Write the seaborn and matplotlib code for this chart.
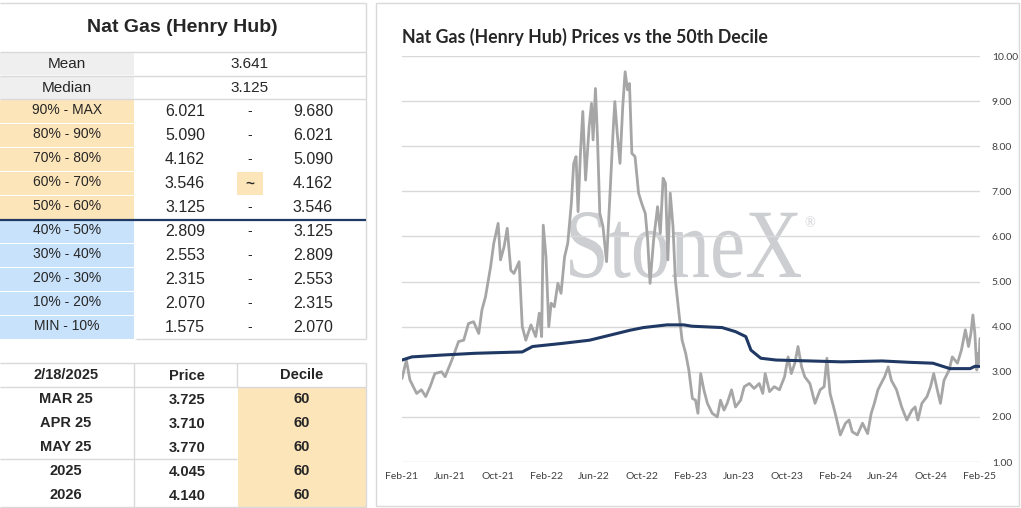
import pandas as pd
import matplotlib.pyplot as plt
import matplotlib.dates as mdates
import matplotlib.patches as mpatches
from matplotlib.textpath import TextPath
from matplotlib.font_manager import FontProperties
from matplotlib.transforms import Affine2D
import seaborn as sns

# ---- table data ----
table_title = "Nat Gas (Henry Hub)"
mean_val = "3.641"
median_val = "3.125"
range_labels = ["90% - MAX", "80% - 90%", "70% - 80%", "60% - 70%", "50% - 60%",
                "40% - 50%", "30% - 40%", "20% - 30%", "10% - 20%", "MIN - 10%"]
range_low = ["6.021", "5.090", "4.162", "3.546", "3.125",
             "2.809", "2.553", "2.315", "2.070", "1.575"]
range_high = ["9.680", "6.021", "5.090", "4.162", "3.546",
              "3.125", "2.809", "2.553", "2.315", "2.070"]
as_of = "2/18/2025"
contracts = ["MAR 25", "APR 25", "MAY 25", "2025", "2026"]
contract_prices = ["3.725", "3.710", "3.770", "4.045", "4.140"]
contract_deciles = ["60", "60", "60", "60", "60"]

# ---- chart data ----
price_dates = [
    "2021-02-18", "2021-03-01", "2021-03-10", "2021-03-27", "2021-04-08", "2021-04-19",
    "2021-04-30", "2021-05-12", "2021-05-29", "2021-06-07", "2021-06-24", "2021-07-11",
    "2021-07-24", "2021-08-05", "2021-08-18", "2021-08-31", "2021-09-08", "2021-09-17",
    "2021-09-30", "2021-10-08", "2021-10-19", "2021-10-25", "2021-11-03", "2021-11-11",
    "2021-11-20", "2021-11-28", "2021-12-11", "2021-12-19", "2021-12-28", "2022-01-10",
    "2022-01-22", "2022-01-31", "2022-02-06", "2022-02-10", "2022-02-17", "2022-02-24",
    "2022-03-02", "2022-03-10", "2022-03-19", "2022-03-27", "2022-04-05", "2022-04-13",
    "2022-04-22", "2022-04-28", "2022-05-04", "2022-05-09", "2022-05-15", "2022-05-21",
    "2022-05-28", "2022-06-06", "2022-06-12", "2022-06-16", "2022-06-22", "2022-06-27",
    "2022-07-03", "2022-07-11", "2022-07-20", "2022-07-28", "2022-08-06", "2022-08-10",
    "2022-08-16", "2022-08-23", "2022-08-30", "2022-09-05", "2022-09-11", "2022-09-16",
    "2022-09-22", "2022-09-30", "2022-10-09", "2022-10-17", "2022-10-26", "2022-11-01",
    "2022-11-07", "2022-11-16", "2022-11-26", "2022-12-03", "2022-12-10", "2022-12-16",
    "2022-12-22", "2022-12-28", "2023-01-04", "2023-01-10", "2023-01-19", "2023-01-27",
    "2023-02-05", "2023-02-13", "2023-02-22", "2023-03-02", "2023-03-08", "2023-03-15",
    "2023-03-23", "2023-04-01", "2023-04-13", "2023-04-26", "2023-05-04", "2023-05-13",
    "2023-05-21", "2023-06-01", "2023-06-11", "2023-06-24", "2023-07-03", "2023-07-16",
    "2023-07-28", "2023-08-10", "2023-08-19", "2023-08-25", "2023-09-05", "2023-09-17",
    "2023-09-30", "2023-10-13", "2023-10-22", "2023-10-30", "2023-11-08", "2023-11-16",
    "2023-11-25", "2023-12-03", "2023-12-16", "2023-12-29", "2024-01-11", "2024-01-21",
    "2024-01-28", "2024-02-05", "2024-02-18", "2024-03-02", "2024-03-15", "2024-03-24",
    "2024-04-01", "2024-04-14", "2024-04-27", "2024-05-10", "2024-05-19", "2024-05-27",
    "2024-06-05", "2024-06-13", "2024-06-22", "2024-07-01", "2024-07-09", "2024-07-22",
    "2024-08-04", "2024-08-17", "2024-08-30", "2024-09-07", "2024-09-14", "2024-09-24",
    "2024-10-07", "2024-10-16", "2024-10-24", "2024-11-02", "2024-11-10", "2024-11-19",
    "2024-12-02", "2024-12-10", "2024-12-23", "2025-01-02", "2025-01-12", "2025-01-20",
    "2025-01-26", "2025-01-31", "2025-02-05", "2025-02-10", "2025-02-13", "2025-02-15",
    "2025-02-18",
]
price_values = [
    2.85, 3.26, 2.82, 2.52, 2.60, 2.45,
    2.67, 2.96, 3.00, 2.89, 3.26, 3.67,
    3.70, 4.07, 4.11, 3.85, 4.37, 4.66,
    5.33, 5.85, 6.29, 5.48, 5.77, 6.18,
    5.25, 5.18, 5.44, 4.00, 3.70, 4.04,
    3.78, 4.30, 3.78, 6.25, 5.55, 4.00,
    4.52, 4.44, 4.96, 4.74, 5.55, 5.85,
    6.73, 7.62, 7.77, 6.55, 7.84, 8.77,
    7.25, 8.43, 8.95, 8.14, 9.28, 8.21,
    6.51, 6.22, 5.44, 6.81, 8.40, 8.99,
    8.29, 7.62, 8.88, 9.65, 9.25, 9.39,
    7.84, 7.77, 6.96, 6.73, 6.51, 5.92,
    4.96, 5.92, 6.66, 6.07, 7.29, 7.18,
    5.48, 6.96, 6.22, 5.03, 4.30, 3.70,
    3.41, 3.04, 2.41, 2.37, 2.08, 2.96,
    2.60, 2.30, 2.08, 2.00, 2.37, 2.15,
    2.30, 2.60, 2.22, 2.37, 2.67, 2.74,
    2.63, 2.74, 2.52, 2.96, 2.56, 2.67,
    2.60, 2.89, 3.33, 2.96, 3.19, 3.56,
    3.11, 2.89, 2.74, 2.30, 2.60, 2.67,
    3.30, 2.52, 2.08, 1.60, 1.86, 1.93,
    1.67, 1.60, 1.86, 1.63, 2.08, 2.30,
    2.60, 2.74, 2.89, 3.11, 2.81, 2.60,
    2.22, 1.93, 2.15, 2.22, 1.93, 2.30,
    2.45, 2.67, 2.96, 2.60, 2.30, 2.81,
    3.04, 3.33, 3.19, 3.48, 3.93, 3.56,
    3.85, 4.26, 3.85, 3.04, 3.41, 3.19,
    3.74,
]
decile_dates = [
    "2021-02-18", "2021-03-15", "2021-05-29", "2021-08-22", "2021-12-19", "2022-01-14",
    "2022-03-31", "2022-06-07", "2022-07-28", "2022-09-17", "2022-10-21", "2022-12-20",
    "2023-01-31", "2023-02-21", "2023-05-08", "2023-06-11", "2023-07-07", "2023-07-20",
    "2023-08-14", "2023-09-22", "2023-12-16", "2024-03-05", "2024-06-15", "2024-08-23",
    "2024-10-22", "2024-12-04", "2025-01-24", "2025-02-05", "2025-02-18",
]
decile_values = [
    3.26, 3.33, 3.37, 3.41, 3.44, 3.56,
    3.63, 3.70, 3.81, 3.92, 3.98, 4.04,
    4.04, 4.01, 3.98, 3.89, 3.78, 3.48,
    3.30, 3.26, 3.24, 3.22, 3.24, 3.21,
    3.19, 3.07, 3.07, 3.12, 3.12,
]
y_ticks = [1, 2, 3, 4, 5, 6, 7, 8, 9, 10]

price_df = pd.DataFrame({"date": pd.to_datetime(price_dates), "price": price_values})
decile_df = pd.DataFrame({"date": pd.to_datetime(decile_dates), "decile": decile_values})

sns.set_style("white")
plt.rcParams["font.family"] = ["Liberation Sans", "DejaVu Sans"]

ORANGE = "#FDE5BA"
BLUE = "#C9E2FB"
GRAY_FILL = "#EFEFEF"
GRID = "#D9D9D9"
NAVY = "#1F3864"
MARK = "#CDCED1"
W, H = 1021, 508

fig = plt.figure(figsize=(W / 100, H / 100), dpi=100)

# background canvas in pixel coordinates
bg = fig.add_axes([0, 0, 1, 1])
bg.set_xlim(0, W)
bg.set_ylim(H, 0)
bg.axis("off")


def rect(x0, y0, x1, y1, color, **kw):
    bg.add_patch(mpatches.Rectangle((x0, y0), x1 - x0, y1 - y0, facecolor=color,
                                    edgecolor="none", **kw))


def hline(y, x0, x1, color=GRID, lw=1.0):
    bg.plot([x0, x1], [y, y], color=color, lw=lw, solid_capstyle="butt")


def vline(x, y0, y1, color=GRID, lw=1.0):
    bg.plot([x, x], [y0, y1], color=color, lw=lw, solid_capstyle="butt")


# ---- upper table ----
TR = 366
hline(3, 0, TR)
vline(TR, 3, 339)
bg.text(182, 28, table_title, ha="center", va="center", fontsize=14, fontweight="bold")
hline(52, 0, TR)
rect(0, 52.5, 134, 75, GRAY_FILL)
rect(0, 76, 134, 98.5, GRAY_FILL)
hline(75.5, 0, TR)
hline(99, 0, TR)
bg.text(67, 64, "Mean", ha="center", va="center", fontsize=11)
bg.text(67, 88, "Median", ha="center", va="center", fontsize=11)
bg.text(250, 64, mean_val, ha="center", va="center", fontsize=11)
bg.text(250, 88, median_val, ha="center", va="center", fontsize=11)

for i, lab in enumerate(range_labels):
    y0 = 99.5 + i * 24
    fill = ORANGE if i < 5 else BLUE
    rect(0, y0, 134, y0 + 23, fill)
    yc = y0 + 12
    bg.text(67, yc - 1, lab, ha="center", va="center", fontsize=10)
    bg.text(185, yc, range_low[i], ha="center", va="center", fontsize=11.5)
    bg.text(313, yc, range_high[i], ha="center", va="center", fontsize=11.5)
    if lab == "60% - 70%":
        rect(237, y0 + 0.5, 263, y0 + 23, ORANGE)
        bg.text(250, yc, "~", ha="center", va="center", fontsize=11, fontweight="bold")
    else:
        bg.text(250, yc, "-", ha="center", va="center", fontsize=10)
hline(339, 136, TR)
hline(219.5, 0, TR, color=NAVY, lw=1.6)

# ---- lower table ----
hline(363, 0, TR)
vline(134, 363, 507)
vline(237, 363, 387)
vline(TR, 363, 507)
rect(237.5, 387.5, TR - 0.5, 507, ORANGE)
hline(387, 0, TR)
hline(459, 0, 237)
hline(507, 0, TR)
bg.text(66, 375, as_of, ha="center", va="center", fontsize=10.5, fontweight="bold")
bg.text(187, 376, "Price", ha="center", va="center", fontsize=10.5, fontweight="bold")
bg.text(302, 375, "Decile", ha="center", va="center", fontsize=10.5, fontweight="bold")
for i, c in enumerate(contracts):
    yc = 399 + i * 24
    bg.text(66, yc, c, ha="center", va="center", fontsize=10.5, fontweight="bold")
    bg.text(187, yc + 1, contract_prices[i], ha="center", va="center", fontsize=10.5,
            fontweight="bold")
    bg.text(302, yc, contract_deciles[i], ha="center", va="center", fontsize=10.5,
            fontweight="bold")

# ---- chart panel ----
bg.add_patch(mpatches.Rectangle((375.5, 2.5), 643, 503, facecolor="none",
                                edgecolor=GRID, lw=1.0))
bg.text(402, 37, "Nat Gas (Henry Hub) Prices vs the 50th Decile", ha="left", va="center",
        fontsize=12.8, fontweight="bold", family=["Lato", "DejaVu Sans"])

ax = fig.add_axes([402 / W, 1 - 462 / H, 578 / W, 406 / H])
ax.set_facecolor("none")

# watermark, fitted to its box in the reference
wm = TextPath((0, 0), "StoneX", size=100, prop=FontProperties(family="Liberation Serif"))
ext = wm.get_extents()
wm_tr = (Affine2D().translate(-ext.x0, -ext.y0)
         .scale(231 / ext.width, -66 / ext.height).translate(570, 278) + bg.transData)
ax.add_patch(mpatches.PathPatch(wm, transform=wm_tr, facecolor=MARK, edgecolor="none",
                                zorder=0.1, clip_on=False))
ax.text(810, 224, "®", transform=bg.transData, ha="center", va="center",
        fontsize=10, family=["Liberation Serif", "DejaVu Serif"], color=MARK, zorder=0.1)

sns.lineplot(data=price_df, x="date", y="price", ax=ax, color="#A6A6A6", lw=2.0, zorder=3)
sns.lineplot(data=decile_df, x="date", y="decile", ax=ax, color=NAVY, lw=2.2, zorder=4)

ax.set_ylim(1, 10)
ax.set_yticks(y_ticks)
ax.yaxis.set_major_formatter(plt.FuncFormatter(lambda v, p: f"{v:.2f}"))
ax.yaxis.tick_right()
ax.set_axisbelow(False)
ax.grid(axis="y", color=GRID, lw=1.0, zorder=1)
ax.grid(axis="x", visible=False)
start, end = pd.Timestamp("2021-02-18"), pd.Timestamp("2025-02-18")
ax.set_xlim(start, end)
ax.set_xticks(pd.date_range(start, end, freq=pd.DateOffset(months=4)))
ax.xaxis.set_major_formatter(mdates.DateFormatter("%b-%y"))
for s in ax.spines.values():
    s.set_visible(False)
ax.tick_params(axis="both", length=0, labelsize=7.5, colors="#404040")
ax.tick_params(axis="y", pad=8.5)
ax.tick_params(axis="x", pad=7)
for t in ax.get_xticklabels() + ax.get_yticklabels():
    t.set_family(["Lato", "DejaVu Sans"])
ax.set_xlabel("")
ax.set_ylabel("")

fig.savefig("out.png", dpi=100)
